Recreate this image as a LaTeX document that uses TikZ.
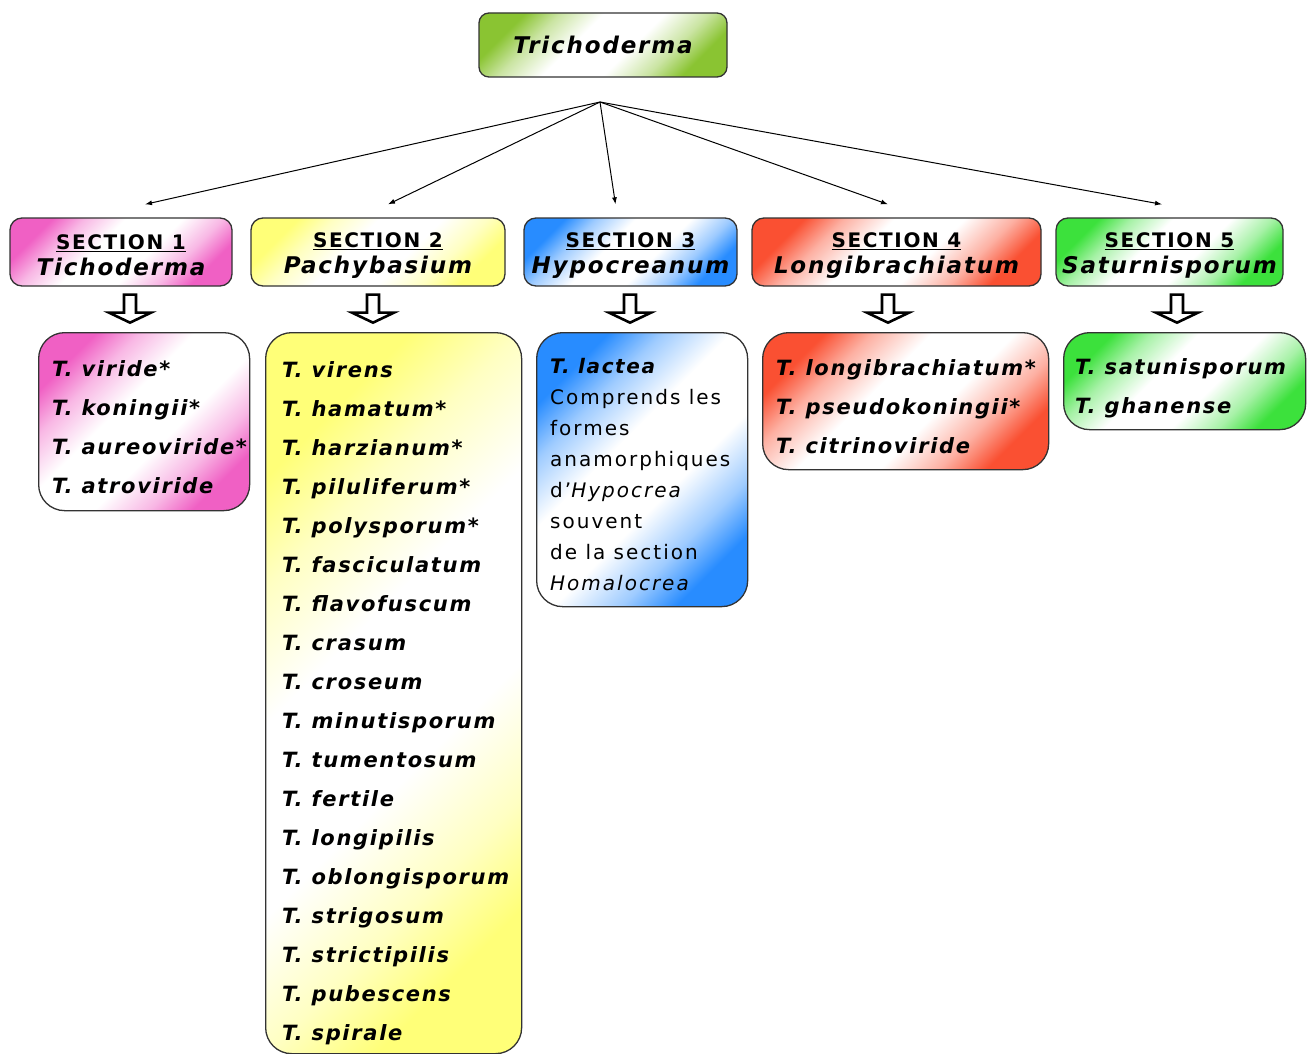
\documentclass[tikz,border=0pt]{standalone}
\usepackage{fontspec}
\setmainfont{DejaVu Sans}
\newfontfamily\boxfont[LetterSpace=8]{DejaVu Sans}
\newfontfamily\notefont[LetterSpace=10]{DejaVu Sans}
\usetikzlibrary{arrows.meta}
\definecolor{trichogreen}{RGB}{138,196,50}
\definecolor{tichopink}{RGB}{240,96,196}
\definecolor{pachyyellow}{RGB}{255,255,120}
\definecolor{hypoblue}{RGB}{40,140,255}
\definecolor{longired}{RGB}{250,80,50}
\definecolor{saturngreen}{RGB}{60,225,60}
\colorlet{boxcol}{white}
\pgfdeclareverticalshading[boxcol]{whitemid}{100bp}{color(0bp)=(boxcol); color(25bp)=(boxcol);
    color(33bp)=(boxcol!45!white); color(43bp)=(white); color(57bp)=(white);
    color(67bp)=(boxcol!45!white); color(75bp)=(boxcol); color(100bp)=(boxcol)}
\tikzset{shadebox/.style={/utils/exec={\colorlet{boxcol}{#1}}, shade, shading=whitemid, shading angle=45},
    secbox/.style={draw=black!80, line width=1.3pt, rounded corners=12pt, align=center,
        minimum height=68pt, inner sep=0pt, font=\boxfont\bfseries\fontsize{23}{26}\selectfont},
    listbox/.style={draw=black!80, line width=1.3pt, rounded corners=26pt, anchor=north west, inner sep=0pt},
    listtext/.style={anchor=north west, align=left, inner sep=0pt,
        font=\boxfont\bfseries\itshape\fontsize{21}{39}\selectfont},
    thinarrow/.style={-{Latex[length=7pt,width=5pt]}, line width=1pt},
    hollowdown/.pic={\draw[line width=2.6pt, fill=white] (-6,0) -- (6,0) -- (6,18) -- (21,18) -- (0,28) -- (-21,18) -- (-6,18) -- cycle;},
    }
\newcommand{\sechead}[2]{{\fontsize{20}{26}\selectfont\rule{0pt}{22pt}\underline{SECTION #1}}\\{\itshape #2}}

\begin{document}
\begin{tikzpicture}[x=1pt, y=-1pt]
	\useasboundingbox (0,0) rectangle (1309,1054);
	\node[draw=black!80, line width=1.3pt, rounded corners=10pt, shadebox=trichogreen,
		minimum width=248pt, minimum height=64pt,
		font=\boxfont\bfseries\itshape\fontsize{23}{26}\selectfont] (tricho) at (603,45) {Trichoderma};
	\coordinate (hub) at (600,102);
	% sections
	\node[secbox, shadebox=tichopink, minimum width=222pt] (s1) at (121,252) {\sechead{1}{Tichoderma}};
	\node[secbox, shadebox=pachyyellow, minimum width=254pt] (s2) at (378,252) {\sechead{2}{Pachybasium}};
	\node[secbox, shadebox=hypoblue, minimum width=213pt] (s3) at (630.5,252) {\sechead{3}{Hypocreanum}};
	\node[secbox, shadebox=longired, minimum width=289pt] (s4) at (896.5,252) {\sechead{4}{Longibrachiatum}};
	\node[secbox, shadebox=saturngreen, minimum width=227pt] (s5) at (1169.5,252) {\sechead{5}{Saturnisporum}};
	\draw[thinarrow] (hub) -- ([xshift=24pt,yshift=13pt]s1.north);
	\draw[thinarrow] (hub) -- ([xshift=10pt,yshift=13pt]s2.north);
	\draw[thinarrow] (hub) -- ([xshift=-15pt,yshift=13pt]s3.north);
	\draw[thinarrow] (hub) -- ([xshift=-8.5pt,yshift=13pt]s4.north);
	\draw[thinarrow] (hub) -- ([xshift=-7.5pt,yshift=13pt]s5.north);
	% species
	\node[listbox, shadebox=tichopink, minimum width=211pt, minimum height=178pt] (c1) at (38,332) {};
	\node[listtext] (c1list) at ([shift={(14,28)}]c1.north west)
		{T. viride*\\T. koningii*\\T. aureoviride*\\T. atroviride};
	\node[listbox, shadebox=pachyyellow, minimum width=256pt, minimum height=721pt] (c2) at (265,332) {};
	\node[listtext] (c2list) at ([shift={(17,29)}]c2.north west)
		{T. virens\\T. hamatum*\\T. harzianum*\\T. piluliferum*\\T. polysporum*\\T. fasciculatum\\
		T. flavofuscum\\T. crasum\\T. croseum\\T. minutisporum\\T. tumentosum\\T. fertile\\
		T. longipilis\\T. oblongisporum\\T. strigosum\\T. strictipilis\\T. pubescens\\T. spirale};
	\node[listbox, shadebox=hypoblue, minimum width=211pt, minimum height=274pt] (c3) at (536,332) {};
	\node[listtext, font=\notefont\fontsize{20}{31}\selectfont] (c3list) at ([shift={(14,26)}]c3.north west)
		{{\boxfont\bfseries\itshape T. lactea}\\Comprends les\\formes\\anamorphiques\\d’\textit{Hypocrea}\\
		souvent\\de la section\\\textit{Homalocrea}};
	\node[listbox, shadebox=longired, minimum width=286pt, minimum height=137pt] (c4) at (762,332) {};
	\node[listtext] (c4list) at ([shift={(14,27)}]c4.north west)
		{T. longibrachiatum*\\T. pseudokoningii*\\T. citrinoviride};
	\node[listbox, shadebox=saturngreen, minimum width=242pt, minimum height=97pt] (c5) at (1063,332) {};
	\node[listtext] (c5list) at ([shift={(12,26)}]c5.north west)
		{T. satunisporum\\T. ghanense};
	\pic at ([xshift=9pt,yshift=-8pt]s1.south) {hollowdown};
	\pic at ([xshift=-5pt,yshift=-8pt]s2.south) {hollowdown};
	\pic at ([xshift=-0.5pt,yshift=-8pt]s3.south) {hollowdown};
	\pic at ([xshift=-8.5pt,yshift=-8pt]s4.south) {hollowdown};
	\pic at ([xshift=7.5pt,yshift=-8pt]s5.south) {hollowdown};
\end{tikzpicture}
\end{document}
